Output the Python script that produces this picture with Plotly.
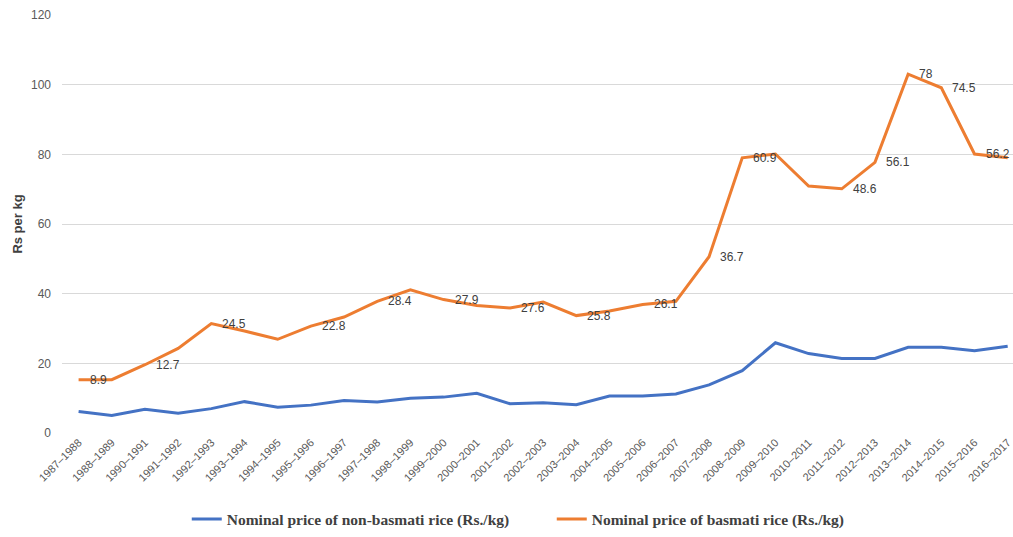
import plotly.graph_objects as go

categories = ["1987–1988", "1988–1989", "1990–1991", "1991–1992", "1992–1993", "1993–1994",
              "1994–1995", "1995–1996", "1996–1997", "1997–1998", "1998–1999", "1999–2000",
              "2000–2001", "2001–2002", "2002–2003", "2003–2004", "2004–2005", "2005–2006",
              "2006–2007", "2007–2008", "2008–2009", "2009–2010", "2010–2011", "2011–2012",
              "2012–2013", "2013–2014", "2014–2015", "2015–2016", "2016–2017"]

non_basmati = [6.2, 5.0, 6.8, 5.7, 7.0, 9.0, 7.4, 8.0, 9.3, 8.9, 10.0, 10.3, 11.4, 8.4,
               8.7, 8.1, 10.6, 10.6, 11.2, 13.8, 17.9, 25.9, 22.8, 21.4, 21.4, 24.6, 24.6,
               23.6, 24.9]

basmati = [15.3, 15.3, 19.6, 24.3, 31.4, 29.3, 26.9, 30.7, 33.3, 37.8, 41.1, 38.3, 36.6,
           35.9, 37.6, 33.7, 35.0, 36.9, 37.8, 50.6, 79.0, 80.1, 70.9, 70.1, 77.7, 103.0,
           99.1, 80.1, 79.0]

basmati_labels = ["8.9", "", "12.7", "", "24.5", "", "", "22.8", "", "28.4", "", "27.9", "",
                  "27.6", "", "25.8", "", "26.1", "", "36.7", "60.9", "", "", "48.6", "56.1",
                  "78", "74.5", "56.2", ""]

y_ticks = [0, 20, 40, 60, 80, 100, 120]

x_idx = list(range(len(categories)))

fig = go.Figure()
fig.add_trace(go.Scatter(
    x=x_idx, y=non_basmati, mode="lines",
    name="<b>Nominal price of non-basmati rice (Rs./kg)</b>",
    line=dict(color="#4472C4", width=3)))
fig.add_trace(go.Scatter(
    x=x_idx, y=basmati, mode="lines",
    name="<b>Nominal price of basmati rice (Rs./kg)</b>",
    line=dict(color="#ED7D31", width=3)))

for i, (lab, v) in enumerate(zip(basmati_labels, basmati)):
    if lab:
        fig.add_annotation(x=i, y=v, text=lab, showarrow=False, xanchor="left",
                           yanchor="middle", xshift=9,
                           font=dict(family="Liberation Sans", size=12, color="#404040"))

fig.update_layout(
    width=1013, height=537,
    margin=dict(l=62, r=0, t=15, b=101),
    plot_bgcolor="white", paper_bgcolor="white",
    showlegend=True,
    legend=dict(orientation="h", x=0.515, xanchor="center", y=-0.207, yanchor="middle",
                font=dict(family="Liberation Serif", size=15.5, color="#404040"),
                itemwidth=30, tracegroupgap=0, entrywidthmode="pixels", entrywidth=320),
    xaxis=dict(
        range=[-0.5, 28.16], tickmode="array", tickvals=x_idx, ticktext=categories,
        tickangle=-45, showgrid=False, zeroline=False, showline=False,
        tickfont=dict(family="Liberation Sans", size=11, color="#595959")),
    yaxis=dict(
        range=[0, 120], tickmode="array", tickvals=y_ticks,
        showgrid=True, gridcolor="#D9D9D9", gridwidth=1, zeroline=False, showline=False,
        tickfont=dict(family="Liberation Sans", size=12, color="#595959"),
        ticklabelstandoff=10,
        title=dict(text="<b>Rs per kg</b>", standoff=5,
                   font=dict(family="Liberation Sans", size=13, color="#404040"))),
)

fig.write_html("out.html")
